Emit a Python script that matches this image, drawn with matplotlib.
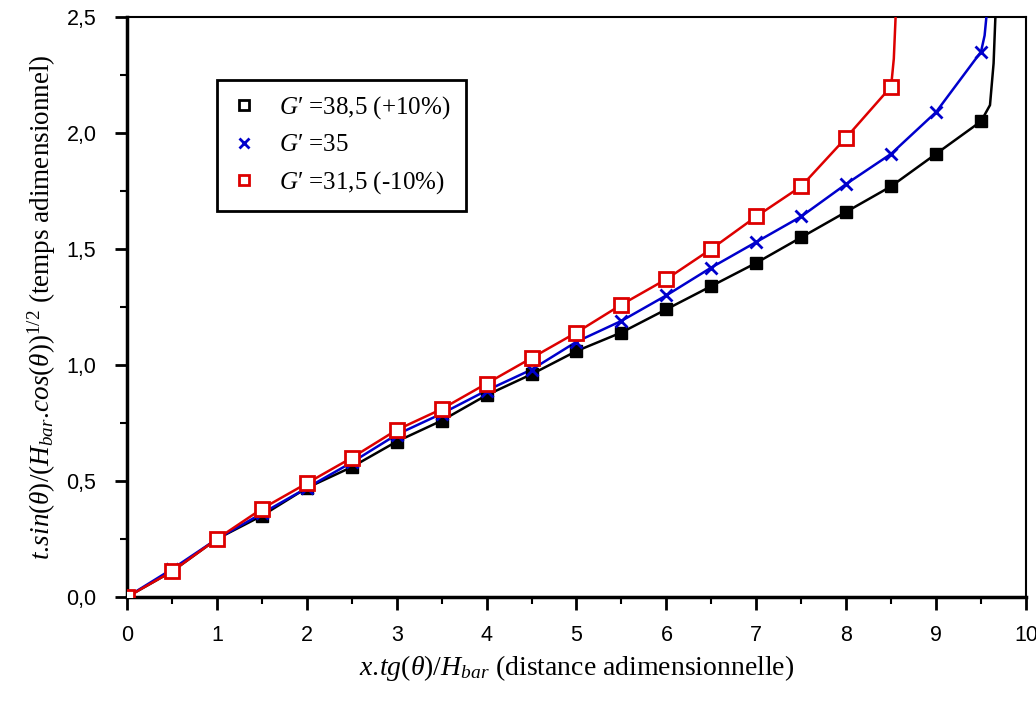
import matplotlib
matplotlib.use("Agg")
import matplotlib.pyplot as plt
from matplotlib.lines import Line2D
from matplotlib.ticker import MultipleLocator, FuncFormatter

plt.rcParams['mathtext.fontset'] = 'custom'
plt.rcParams['mathtext.rm'] = 'Liberation Serif'
plt.rcParams['mathtext.it'] = 'Liberation Serif:italic'

# abscisses des points
x_pts = [0, 0.5, 1, 1.5, 2, 2.5, 3, 3.5, 4, 4.5, 5, 5.5, 6, 6.5, 7, 7.5, 8, 8.5, 9, 9.5]
x_pts_red = x_pts[:18]

# G' = 38,5 (+10%)
y_385 = [0, 0.11, 0.25, 0.35, 0.47, 0.56, 0.67, 0.76, 0.87, 0.96, 1.06, 1.14,
         1.24, 1.34, 1.44, 1.55, 1.66, 1.77, 1.91, 2.05]
# G' = 35
y_35 = [0, 0.12, 0.25, 0.36, 0.47, 0.58, 0.70, 0.79, 0.89, 0.98, 1.10, 1.19,
        1.30, 1.42, 1.53, 1.64, 1.78, 1.91, 2.09, 2.35]
# G' = 31,5 (-10%)
y_315 = [0, 0.11, 0.25, 0.38, 0.49, 0.60, 0.72, 0.81, 0.92, 1.03, 1.14, 1.26,
         1.37, 1.50, 1.64, 1.77, 1.98, 2.20]

# fin des courbes (montee verticale)
tail_385_x = [9.5, 9.6, 9.64, 9.66]
tail_385_y = [2.05, 2.12, 2.3, 2.5]
tail_35_x = [9.5, 9.54, 9.56]
tail_35_y = [2.35, 2.42, 2.5]
tail_315_x = [8.5, 8.53, 8.55]
tail_315_y = [2.20, 2.32, 2.5]

fig = plt.figure(figsize=(10.36, 7.07), dpi=100)
ax = fig.add_axes([0.1226, 0.1556, 0.8677, 0.8204])

ax.plot(x_pts + tail_385_x[1:], y_385 + tail_385_y[1:], color='black', lw=1.8, zorder=2)
ax.plot(x_pts + tail_35_x[1:], y_35 + tail_35_y[1:], color='#0000cc', lw=1.8, zorder=3)
ax.plot(x_pts_red + tail_315_x[1:], y_315 + tail_315_y[1:], color='#dd0000', lw=1.8, zorder=4)

ax.plot(x_pts, y_385, ls='none', marker='s', ms=9, color='black', zorder=5)
ax.plot(x_pts, y_35, ls='none', marker='x', ms=9, mew=2, color='#0000cc', zorder=6)
ax.plot(x_pts_red, y_315, ls='none', marker='s', ms=9.5, mfc='white', mec='#dd0000',
        mew=2, zorder=7)

ax.set_xlim(0, 10)
ax.set_ylim(0, 2.5)
ax.xaxis.set_major_locator(MultipleLocator(1))
ax.xaxis.set_minor_locator(MultipleLocator(0.5))
ax.yaxis.set_major_locator(MultipleLocator(0.5))
ax.yaxis.set_minor_locator(MultipleLocator(0.25))
ax.yaxis.set_major_formatter(FuncFormatter(lambda v, p: f"{v:.1f}".replace('.', ',')))
ax.xaxis.set_major_formatter(FuncFormatter(lambda v, p: f"{v:.0f}"))

ax.tick_params(which='major', direction='out', length=9, width=2, labelsize=15.5,
               labelfontfamily='Liberation Sans')
ax.tick_params(which='minor', direction='out', length=5, width=1.5)
ax.tick_params(axis='x', which='major', pad=11)
ax.tick_params(axis='y', which='major', pad=13)

ax.spines['left'].set_linewidth(2.5)
ax.spines['bottom'].set_linewidth(2.5)
ax.spines['top'].set_linewidth(1.5)
ax.spines['right'].set_linewidth(1.5)

ax.set_xlabel(r'$x.\!tg(\theta)/H_{bar}$ (distance adimensionnelle)',
              fontfamily='Liberation Serif', fontsize=20, labelpad=5)
ax.set_ylabel(r'$t.\!sin(\theta)/(H_{bar}.\!cos(\theta))^{1/2}$ (temps adimensionnel)',
              fontfamily='Liberation Serif', fontsize=19.5, labelpad=6)

handles = [
    Line2D([], [], ls='none', marker='s', ms=7, mfc='white', mec='black', mew=2),
    Line2D([], [], ls='none', marker='x', ms=7, mew=2, color='#0000cc'),
    Line2D([], [], ls='none', marker='s', ms=7, mfc='white', mec='#dd0000', mew=2),
]
labels = ["$G′$ =38,5 (+10%)", "$G′$ =35", "$G′$ =31,5 (-10%)"]
leg = ax.legend(handles, labels, loc='upper left', bbox_to_anchor=(0.1, 0.892),
                prop={'family': 'Liberation Serif', 'size': 18}, fancybox=False,
                edgecolor='black', framealpha=1, borderpad=0.6, labelspacing=0.5,
                handlelength=1.0, handletextpad=0.9, borderaxespad=0)
leg.get_frame().set_linewidth(2)

fig.savefig('out.png', dpi=100)
